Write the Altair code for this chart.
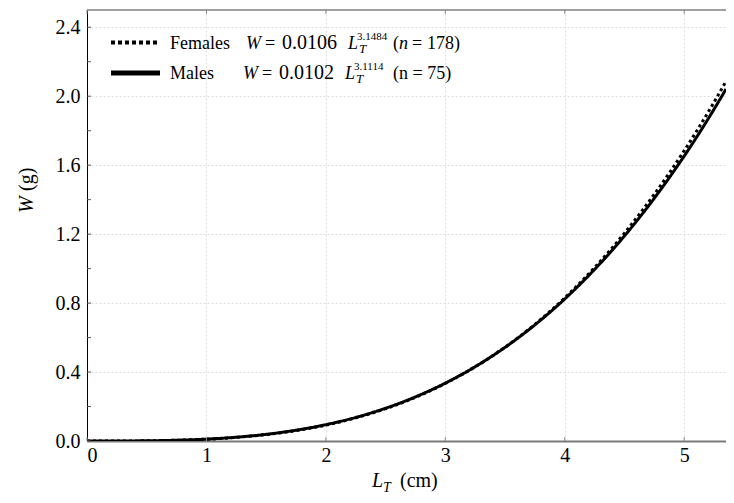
import altair as alt
import pandas as pd

# ---- data ----
length_cm = [0, 0.25, 0.5, 0.75, 1.0, 1.25, 1.5, 1.75, 2.0, 2.25, 2.5, 2.75, 3.0,
             3.25, 3.5, 3.75, 4.0, 4.25, 4.5, 4.75, 5.0, 5.25, 5.35]
females_w = [0.0, 0.00013, 0.00114, 0.00413, 0.01028, 0.02084, 0.03714, 0.06053,
             0.09240, 0.13419, 0.18735, 0.25339, 0.33382, 0.43016, 0.54400, 0.67690,
             0.83046, 1.00632, 1.20605, 1.43139, 1.68407, 1.96543, 2.08653]
males_w = [0.0, 0.00014, 0.00125, 0.00444, 0.01090, 0.02187, 0.03862, 0.06247,
           0.09477, 0.13684, 0.19012, 0.25594, 0.33579, 0.43100, 0.54319, 0.67362,
           0.82387, 0.99538, 1.18974, 1.40839, 1.65277, 1.92440, 2.04124]
x_ticks = [0, 1, 2, 3, 4, 5]
y_ticks = [0.0, 0.2, 0.4, 0.6, 0.8, 1.0, 1.2, 1.4, 1.6, 1.8, 2.0, 2.2, 2.4]

df = pd.DataFrame({
    "L": length_cm + length_cm,
    "W": females_w + males_w,
    "sex": ["Females"] * len(length_cm) + ["Males"] * len(length_cm),
})

FONT = "Liberation Serif"
PW, PH = 639, 431
x_scale = alt.Scale(domain=[0, 5.35], nice=False, zero=False)
y_scale = alt.Scale(domain=[0, 2.5], nice=False)

lines = alt.Chart(df).mark_line(color="black", strokeWidth=3, clip=True,
                                interpolate="monotone").encode(
    x=alt.X("L:Q", scale=x_scale, axis=alt.Axis(
        values=x_ticks, format="d", grid=True, gridDash=[2, 2], gridColor="#dedede",
        gridWidth=1, ticks=False, tickSize=0, domainColor="#7a7a7a", domainWidth=2,
        labelFont=FONT, labelFontSize=20, labelColor="black", labelPadding=4,
        title=None)),
    y=alt.Y("W:Q", scale=y_scale, axis=alt.Axis(
        values=y_ticks, grid=True, gridDash=[2, 2], gridColor="#dedede", gridWidth=1,
        labelExpr="abs(round(datum.value*10) % 4) == 0 ? format(datum.value, '.1f') : ''",
        ticks=False, tickSize=0, domainColor="black", domainWidth=1,
        labelFont=FONT, labelFontSize=20, labelColor="black", labelPadding=7,
        title=None)),
    strokeDash=alt.StrokeDash("sex:N", scale=alt.Scale(domain=["Females", "Males"],
                                                        range=[[3, 3], [1, 0]]), legend=None),
    detail="sex:N",
)

xt = pd.DataFrame({"t": x_ticks})
yt = pd.DataFrame({"t": y_ticks})
tick_col = "#8a8a8a"
x_ticks_bottom = alt.Chart(xt).mark_rule(color=tick_col, strokeWidth=1).encode(
    x=alt.X("t:Q", scale=x_scale), y=alt.value(PH), y2=alt.value(PH - 4))
x_ticks_top = alt.Chart(xt).mark_rule(color=tick_col, strokeWidth=1).encode(
    x=alt.X("t:Q", scale=x_scale), y=alt.value(0), y2=alt.value(4))
y_ticks_left = alt.Chart(yt).mark_rule(color="#555555", strokeWidth=1).encode(
    y=alt.Y("t:Q", scale=y_scale), x=alt.value(0), x2=alt.value(4))

dummy = pd.DataFrame({"a": [0]})
top_border = alt.Chart(dummy).mark_rule(color="#808080", strokeWidth=1.5).encode(
    x=alt.value(0), x2=alt.value(PW), y=alt.value(0))

leg_dotted = alt.Chart(dummy).mark_rule(color="black", strokeWidth=4, strokeDash=[4, 3]).encode(
    x=alt.value(24), x2=alt.value(73), y=alt.value(32.5))
leg_solid = alt.Chart(dummy).mark_rule(color="black", strokeWidth=5).encode(
    x=alt.value(24), x2=alt.value(73), y=alt.value(63))


def txt(s, x, y, size=18, italic=False, angle=None, baseline="alphabetic"):
    kw = dict(text=s, font=FONT, fontSize=size, fontStyle="italic" if italic else "normal",
              align="left", baseline=baseline, color="black")
    if angle is not None:
        kw["angle"] = angle
    return alt.Chart(dummy).mark_text(**kw).encode(x=alt.value(x), y=alt.value(y))


r1, r2 = 38.5, 69
texts = [
    txt("Females", 83, r1),
    txt("W", 159, r1, italic=True),
    txt("=", 178, r1),
    txt("0.0106", 195, r1, size=20),
    txt("L", 261, r1, italic=True),
    txt("T", 272, r1 + 4, size=13, italic=True),
    txt("3.1484", 270, r1 - 9, size=11),
    txt("(", 306, r1),
    txt("n", 312, r1, italic=True),
    txt("=", 325, r1),
    txt("178)", 340, r1),
    txt("Males", 83, r2),
    txt("W", 156, r2, italic=True),
    txt("=", 175, r2),
    txt("0.0102", 192, r2, size=20),
    txt("L", 258, r2, italic=True),
    txt("T", 269, r2 + 4, size=13, italic=True),
    txt("3.1114", 267, r2 - 9, size=11),
    txt("(n = 75)", 306, r2),
    # x-axis title
    txt("L", 285, 477, size=20, italic=True),
    txt("T", 296, 482, size=14, italic=True),
    txt("(cm)", 313, 477, size=20),
    # y-axis title
    txt("W", -60, 203, size=20, italic=True, angle=270, baseline="middle"),
    txt("(g)", -60, 181, size=20, angle=270, baseline="middle"),
]

chart = alt.layer(lines, x_ticks_bottom, x_ticks_top, y_ticks_left, top_border,
                  leg_dotted, leg_solid, *texts).properties(
    width=PW, height=PH,
    padding={"left": 79, "top": 2, "right": 0, "bottom": 54},
    autosize="none",
).configure_view(stroke=None)

chart.save("out.html", embed_options={"renderer": "svg", "actions": False})
